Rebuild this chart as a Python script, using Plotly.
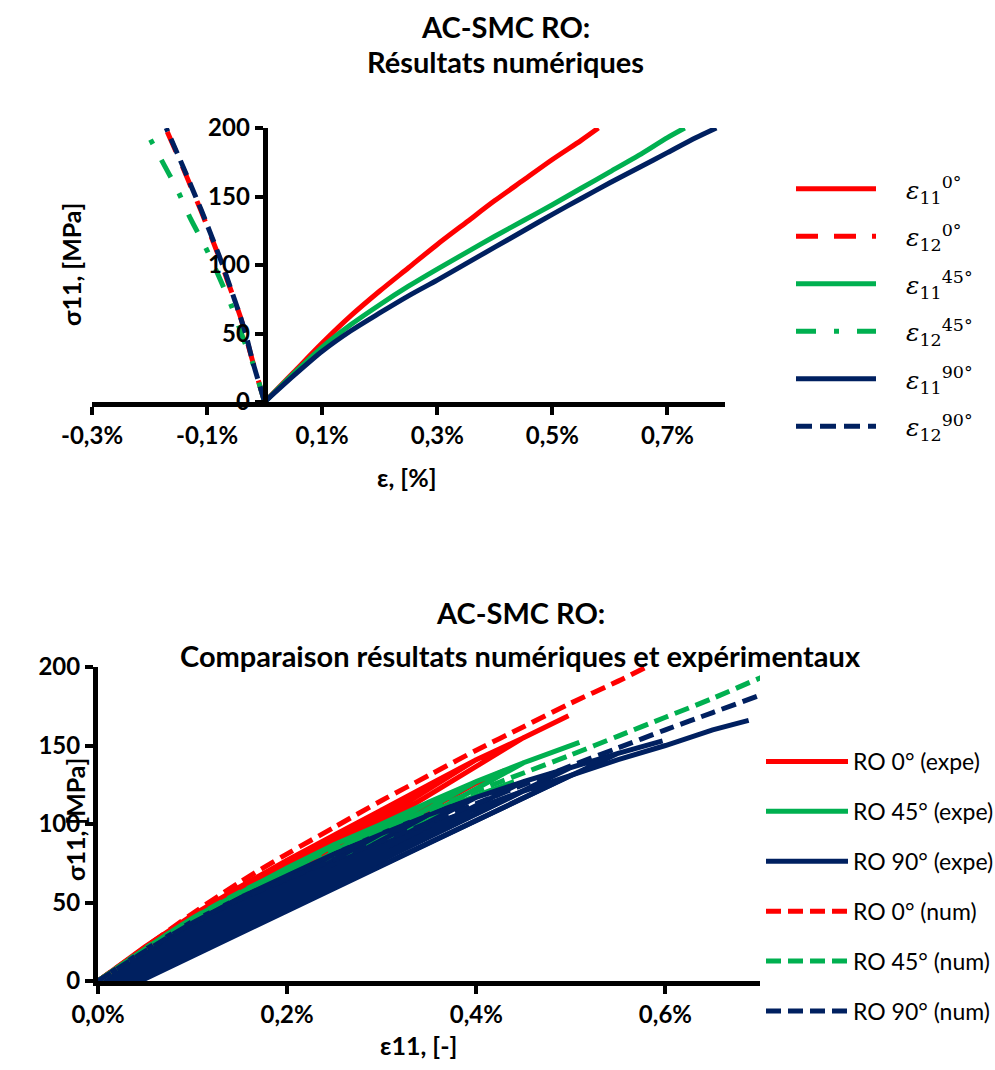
import plotly.graph_objects as go

# ---------------- Top chart: numerical results (strain in %) ----------------
e11_0_x = [0, 0.05, 0.10, 0.15, 0.20, 0.25, 0.30, 0.35, 0.40, 0.45, 0.50, 0.55, 0.58]
e11_0_y = [0, 21.5, 43, 63, 81, 98, 115, 131, 147, 162, 177, 191, 200]
e11_45_x = [0, 0.05, 0.10, 0.15, 0.20, 0.25, 0.30, 0.35, 0.40, 0.45, 0.50, 0.55, 0.60, 0.65, 0.70, 0.73]
e11_45_y = [0, 20.5, 40, 56.5, 71, 84.5, 97, 109, 121, 132.5, 144, 156, 168, 180, 193, 200]
e11_90_x = [0, 0.05, 0.10, 0.15, 0.20, 0.25, 0.30, 0.35, 0.40, 0.45, 0.50, 0.55, 0.60, 0.65, 0.70, 0.75, 0.785]
e11_90_y = [0, 19, 37, 52, 65, 77.5, 89, 101, 113, 125, 137, 148.5, 160, 171, 182, 193, 200]

e12_0_x = [0, -0.021, -0.034, -0.042, -0.065, -0.074, -0.111, -0.121, -0.143, -0.172]
e12_0_y = [0, 30, 50, 62, 89, 100, 140, 150, 172, 200]
e12_45_x = [0, -0.020, -0.036, -0.059, -0.082, -0.104, -0.129, -0.153, -0.178, -0.205]
e12_45_y = [0, 27.6, 45, 71.5, 94, 114, 134, 156, 175.6, 196.8]
e12_90_x = [0, -0.021, -0.033, -0.042, -0.064, -0.073, -0.110, -0.120, -0.142, -0.171]
e12_90_y = [0, 30, 50, 62, 89, 100, 140, 150, 172, 200]

top_tickvals = [-0.3, -0.1, 0.1, 0.3, 0.5, 0.7]
top_ticktext = ["-0,3%", "-0,1%", "0,1%", "0,3%", "0,5%", "0,7%"]
y_tickvals = [0, 50, 100, 150, 200]

# ---------------- Bottom chart: experimental (cyclic) curves ----------------
ro0A_x = [0, 0.05, 0.10, 0.15, 0.20, 0.25, 0.30, 0.35, 0.40, 0.45, 0.4975]
ro0A_y = [0, 22, 42, 60, 77, 93, 109, 125, 141, 155, 169]
ro0A_res = [0.001, 0.003, 0.005, 0.008, 0.011, 0.014, 0.018, 0.022, 0.026]
ro0B_x = [0, 0.05, 0.10, 0.15, 0.20, 0.25, 0.30, 0.35, 0.40, 0.43]
ro0B_y = [0, 19, 37, 53, 70, 85, 100, 113, 126, 134]
ro0B_res = [0.001, 0.003, 0.005, 0.008, 0.011, 0.014, 0.018, 0.022]

ro45A_x = [0, 0.05, 0.10, 0.15, 0.20, 0.25, 0.30, 0.35, 0.40, 0.45, 0.509]
ro45A_y = [0, 21, 40, 56, 72, 87, 100, 114, 127, 139, 152]
ro45A_res = [0.002, 0.004, 0.007, 0.010, 0.014, 0.018, 0.022, 0.026, 0.030]
ro45B_x = [0, 0.05, 0.10, 0.15, 0.20, 0.25, 0.30, 0.35, 0.40, 0.44]
ro45B_y = [0, 20, 37, 52, 66, 80, 93, 106, 118, 127]
ro45B_res = [0.002, 0.004, 0.007, 0.010, 0.013, 0.016, 0.020, 0.024]

ro90A_x = [0, 0.05, 0.10, 0.15, 0.20, 0.25, 0.30, 0.35, 0.40, 0.45, 0.50, 0.55, 0.597]
ro90A_y = [0, 20, 38, 53, 67, 81, 94, 106, 117, 127, 136, 145, 153]
ro90A_res = [0.002, 0.005, 0.008, 0.012, 0.016, 0.020, 0.024, 0.028, 0.032, 0.036, 0.040]
ro90B_x = [0, 0.05, 0.10, 0.15, 0.20, 0.25, 0.30, 0.35, 0.40, 0.45, 0.50, 0.55, 0.60, 0.65, 0.688]
ro90B_y = [0, 18, 34, 49, 62, 75, 87, 99, 110, 121, 131, 141, 150, 160, 166]
ro90B_res = [0.002, 0.005, 0.009, 0.013, 0.017, 0.022, 0.027, 0.032, 0.037, 0.045]

bot_tickvals = [0.0, 0.2, 0.4, 0.6]
bot_ticktext = ["0,0%", "0,2%", "0,4%", "0,6%"]

RED = "#FF0000"
GREEN = "#00B050"
NAVY = "#002060"


def cycles(xs, ys, res):
    """Assemble the loading path: envelope points with unload/reload loops."""
    px, py = [], []
    for i, (x, y) in enumerate(zip(xs, ys)):
        px.append(x)
        py.append(y)
        if 1 <= i <= len(res):
            px += [res[i - 1], x]
            py += [0, y]
    return px, py


fig = go.Figure()

SP = "\u2003"
top_series = [
    (e11_0_x, e11_0_y, RED, "solid", SP + "<i>ε</i><sub>11</sub><sup>0°</sup>"),
    (e12_0_x, e12_0_y, RED, "22px,16px", SP + "<i>ε</i><sub>12</sub><sup>0°</sup>"),
    (e11_45_x, e11_45_y, GREEN, "solid", SP + "<i>ε</i><sub>11</sub><sup>45°</sup>"),
    (e12_45_x, e12_45_y, GREEN, "20px,18px,5px,18px", SP + "<i>ε</i><sub>12</sub><sup>45°</sup>"),
    (e11_90_x, e11_90_y, NAVY, "solid", SP + "<i>ε</i><sub>11</sub><sup>90°</sup>"),
    (e12_90_x, e12_90_y, NAVY, "16px,8px", SP + "<i>ε</i><sub>12</sub><sup>90°</sup>"),
]
for k, (xs, ys, col, dash, name) in enumerate(top_series):
    fig.add_trace(go.Scatter(
        x=xs, y=ys, mode="lines", name=name,
        line=dict(color=col, width=5, dash=dash, shape="spline", smoothing=0.8),
        xaxis="x", yaxis="y", legend="legend", legendgroup=f"top{k}",
    ))

exp_specs = [
    (cycles(ro0A_x, ro0A_y, ro0A_res), RED, "RO 0° (expe)", "r", True),
    (cycles(ro0B_x, ro0B_y, ro0B_res), RED, "RO 0° (expe)", "r", False),
    (cycles(ro45A_x, ro45A_y, ro45A_res), GREEN, "RO 45° (expe)", "g", True),
    (cycles(ro45B_x, ro45B_y, ro45B_res), GREEN, "RO 45° (expe)", "g", False),
    (cycles(ro90A_x, ro90A_y, ro90A_res), NAVY, "RO 90° (expe)", "b", True),
    (cycles(ro90B_x, ro90B_y, ro90B_res), NAVY, "RO 90° (expe)", "b", False),
]
for (px, py), col, name, grp, show in exp_specs:
    fig.add_trace(go.Scatter(
        x=px, y=py, mode="lines", name=name, showlegend=show,
        line=dict(color=col, width=5),
        xaxis="x2", yaxis="y2", legend="legend2", legendgroup="exp" + grp,
    ))

num_specs = [
    (e11_0_x, e11_0_y, RED, "RO 0° (num)", "r"),
    (e11_45_x, e11_45_y, GREEN, "RO 45° (num)", "g"),
    (e11_90_x, e11_90_y, NAVY, "RO 90° (num)", "b"),
]
for xs, ys, col, name, grp in num_specs:
    fig.add_trace(go.Scatter(
        x=xs, y=ys, mode="lines", name=name,
        line=dict(color=col, width=5, dash="15px,7px", shape="spline", smoothing=0.8),
        xaxis="x2", yaxis="y2", legend="legend2", legendgroup="num" + grp,
    ))

W, H = 995, 1070
tickfont = dict(family="Lato", size=24, color="black", weight="bold")
axis_common = dict(showline=True, linewidth=5, linecolor="black", ticks="outside",
                   ticklen=8, tickwidth=4, tickcolor="black", showgrid=False,
                   zeroline=False, tickfont=tickfont, automargin=False)

top_x0, top_x1 = 92 / W, 725 / W
top_y0, top_y1 = 1 - 402 / H, 1 - 128 / H
bot_x0, bot_x1 = 98 / W, 760 / W
bot_y0, bot_y1 = 1 - 981 / H, 1 - 667 / H
yaxis_pos = top_x0 + (top_x1 - top_x0) * (0.3 / 1.1)

fig.update_layout(
    width=W, height=H, autosize=False,
    margin=dict(l=0, r=0, t=0, b=0, pad=0, autoexpand=False),
    paper_bgcolor="white", plot_bgcolor="white",
    font=dict(family="Lato", color="black"),
    xaxis=dict(domain=[top_x0, top_x1], range=[-0.3, 0.8], anchor="y",
               tickvals=top_tickvals, ticktext=top_ticktext, **axis_common),
    yaxis=dict(domain=[top_y0, top_y1], range=[0, 200], anchor="free",
               position=yaxis_pos, tickvals=y_tickvals, **axis_common),
    xaxis2=dict(domain=[bot_x0, bot_x1], range=[0, 0.7], anchor="y2",
                tickvals=bot_tickvals, ticktext=bot_ticktext, **axis_common),
    yaxis2=dict(domain=[bot_y0, bot_y1], range=[0, 200], anchor="x2",
                tickvals=y_tickvals, **axis_common),
    legend=dict(x=791 / W, xanchor="left", y=1 - 166 / H, yanchor="top",
                font=dict(family="DejaVu Serif", size=25, color="black"),
                itemwidth=80, tracegroupgap=12, bgcolor="rgba(0,0,0,0)"),
    legend2=dict(x=761 / W, xanchor="left", y=1 - 740 / H, yanchor="top",
                 font=dict(family="Lato", size=23, color="black"),
                 itemwidth=82, tracegroupgap=17, bgcolor="rgba(0,0,0,0)"),
    showlegend=True,
)

title_font = dict(family="Lato", size=29, color="black", weight="bold")
label_font = dict(family="Lato", size=25, color="black", weight="bold")


def ann(text, px, py, font, angle=0):
    fig.add_annotation(text=text, x=px / W, y=1 - py / H, xref="paper", yref="paper",
                       showarrow=False, font=font, textangle=angle,
                       xanchor="center", yanchor="middle")


ann("AC-SMC RO:", 505, 27, title_font)
ann("Résultats numériques", 505, 61, title_font)
ann("AC-SMC RO:", 520, 612, title_font)
ann("Comparaison résultats numériques et expérimentaux", 520, 655, title_font)
ann("σ11, [MPa]", 71, 265, label_font, -90)
ann("ε, [%]", 407, 477, label_font)
ann("σ11, [MPa]", 75, 820, label_font, -90)
ann("ε11, [-]", 418, 1045, label_font)

fig.write_html(
    "out.html",
    config={"displayModeBar": False},
    post_script="document.body.style.margin='0px';"
                "document.documentElement.style.overflow='hidden';",
)
